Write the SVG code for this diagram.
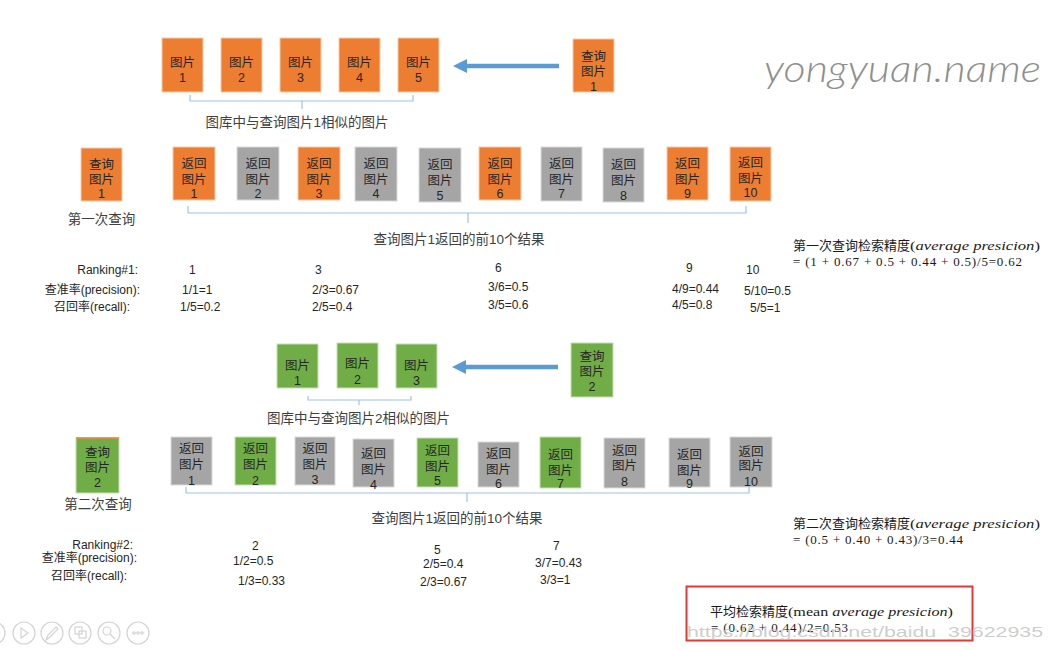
<svg xmlns="http://www.w3.org/2000/svg" width="1057" height="650" viewBox="0 0 1057 650">
<style>
text{font-family:"Liberation Sans","Noto Sans CJK SC",sans-serif;fill:#262626}
.o{fill:#ED7D31;stroke:#F8CBAD;stroke-width:1}
.g{fill:#A5A5A5;stroke:#DADADA;stroke-width:1}
.n{fill:#70AD47;stroke:#C5E0B4;stroke-width:1}
.bt{font-size:12.5px;text-anchor:middle}
.lab{font-size:13.5px;text-anchor:middle;fill:#404040}
.rk{font-size:12px}
.rr{font-size:12px;text-anchor:end}
.ap{font-size:13px;font-family:"Liberation Serif","Noto Sans CJK SC",serif;fill:#1a1a1a}
.it{font-style:italic}
.br{fill:none;stroke:#9DC3E6;stroke-width:1.2}
.arr{stroke:#5B9BD5;stroke-width:4.5;fill:none}
.ic{fill:none;stroke:#D4D4D4;stroke-width:1.2}
</style>
<defs>
<marker id="ah" viewBox="0 0 14 14" refX="0" refY="7" markerWidth="14" markerHeight="14" markerUnits="userSpaceOnUse" orient="auto"><path d="M0,0 L14,7 L0,14 z" fill="#5B9BD5"/></marker>
</defs>
<rect width="1057" height="650" fill="#fff"/>

<text x="764" y="82" font-size="38" font-style="italic" font-weight="300" style="font-family:Lato,'Open Sans',sans-serif;fill:#8f8f8f" textLength="277" lengthAdjust="spacingAndGlyphs">yongyuan.name</text>

<!-- Row 1: similar images for query 1 -->
<g id="img1-1"><rect class="o" x="162" y="38" width="41" height="54"/><text class="bt" x="182.5" y="66.5">图片</text><text class="bt" x="182.5" y="81.5">1</text></g>
<g id="img1-2"><rect class="o" x="221" y="38" width="41" height="54"/><text class="bt" x="241.5" y="66.5">图片</text><text class="bt" x="241.5" y="81.5">2</text></g>
<g id="img1-3"><rect class="o" x="280" y="38" width="41" height="54"/><text class="bt" x="300.5" y="66.5">图片</text><text class="bt" x="300.5" y="81.5">3</text></g>
<g id="img1-4"><rect class="o" x="339" y="38" width="41" height="54"/><text class="bt" x="359.5" y="66.5">图片</text><text class="bt" x="359.5" y="81.5">4</text></g>
<g id="img1-5"><rect class="o" x="398" y="38" width="41" height="54"/><text class="bt" x="418.5" y="66.5">图片</text><text class="bt" x="418.5" y="81.5">5</text></g>
<g id="query1-top"><rect class="o" x="573" y="39" width="41" height="53"/><text class="bt" x="593.5" y="61">查询</text><text class="bt" x="593.5" y="76">图片</text><text class="bt" x="593.5" y="91">1</text></g>
<text class="lab" x="297" y="127">图库中与查询图片1相似的图片</text>

<!-- Row 2: query 1 results -->
<g id="query1"><rect class="o" x="81" y="148" width="41" height="53"/><text class="bt" x="101.5" y="168.5">查询</text><text class="bt" x="101.5" y="183.5">图片</text><text class="bt" x="101.5" y="197.5">1</text></g>
<text class="lab" x="101.5" y="223.5">第一次查询</text>
<g id="r1-1"><rect class="o" x="173" y="147" width="42" height="53"/><text class="bt" x="194" y="167.5">返回</text><text class="bt" x="194" y="183.5">图片</text><text class="bt" x="194" y="197.5">1</text></g>
<g id="r1-2"><rect class="g" x="237" y="147" width="42" height="53"/><text class="bt" x="258" y="167.5">返回</text><text class="bt" x="258" y="183.5">图片</text><text class="bt" x="258" y="197.5">2</text></g>
<g id="r1-3"><rect class="o" x="298" y="147" width="42" height="53"/><text class="bt" x="319" y="167.5">返回</text><text class="bt" x="319" y="183.5">图片</text><text class="bt" x="319" y="197.5">3</text></g>
<g id="r1-4"><rect class="g" x="355" y="147" width="42" height="54"/><text class="bt" x="376" y="167.5">返回</text><text class="bt" x="376" y="183.5">图片</text><text class="bt" x="376" y="197.5">4</text></g>
<g id="r1-5"><rect class="g" x="419" y="148" width="42" height="54"/><text class="bt" x="440" y="169">返回</text><text class="bt" x="440" y="185">图片</text><text class="bt" x="440" y="199.5">5</text></g>
<g id="r1-6"><rect class="o" x="479" y="147" width="42" height="53"/><text class="bt" x="500" y="167.5">返回</text><text class="bt" x="500" y="183.5">图片</text><text class="bt" x="500" y="197.5">6</text></g>
<g id="r1-7"><rect class="g" x="541" y="147" width="41" height="54"/><text class="bt" x="561.5" y="167.5">返回</text><text class="bt" x="561.5" y="183.5">图片</text><text class="bt" x="561.5" y="198">7</text></g>
<g id="r1-8"><rect class="g" x="603" y="148" width="41" height="54"/><text class="bt" x="623.5" y="169">返回</text><text class="bt" x="623.5" y="185">图片</text><text class="bt" x="623.5" y="199.5">8</text></g>
<g id="r1-9"><rect class="o" x="667" y="147" width="41" height="53"/><text class="bt" x="687.5" y="167.5">返回</text><text class="bt" x="687.5" y="183.5">图片</text><text class="bt" x="687.5" y="197.5">9</text></g>
<g id="r1-10"><rect class="o" x="730" y="147" width="41" height="54"/><text class="bt" x="750.5" y="166.5">返回</text><text class="bt" x="750.5" y="182.5">图片</text><text class="bt" x="750.5" y="197">10</text></g>
<text class="lab" x="459" y="244">查询图片1返回的前10个结果</text>

<g id="ap1">
<text class="ap" x="793" y="250">第一次查询检索精度</text>
<text class="ap" x="910" y="250" textLength="130" lengthAdjust="spacingAndGlyphs">(<tspan class="it">average presicion</tspan>)</text>
<text class="ap" x="793" y="266" textLength="229" lengthAdjust="spacing">= (1 + 0.67 + 0.5 + 0.44 + 0.5)/5=0.62</text>
</g>

<g id="ranking1">
<text class="rr" x="138" y="274">Ranking#1:</text>
<text class="rr" x="140" y="294">查准率(precision):</text>
<text class="rr" x="130" y="311">召回率(recall):</text>
<text class="rk" x="189" y="274">1</text><text class="rk" x="182" y="294">1/1=1</text><text class="rk" x="180" y="311">1/5=0.2</text>
<text class="rk" x="315" y="274">3</text><text class="rk" x="312" y="294">2/3=0.67</text><text class="rk" x="312" y="311">2/5=0.4</text>
<text class="rk" x="495" y="272">6</text><text class="rk" x="488" y="291">3/6=0.5</text><text class="rk" x="488" y="309">3/5=0.6</text>
<text class="rk" x="686" y="272">9</text><text class="rk" x="672" y="293">4/9=0.44</text><text class="rk" x="672" y="309">4/5=0.8</text>
<text class="rk" x="746" y="274">10</text><text class="rk" x="744" y="295">5/10=0.5</text><text class="rk" x="750" y="312">5/5=1</text>
</g>

<!-- Row 3: similar images for query 2 -->
<g id="img2-1"><rect class="n" x="277" y="344" width="41" height="44"/><text class="bt" x="297.5" y="369.5">图片</text><text class="bt" x="297.5" y="384.5">1</text></g>
<g id="img2-2"><rect class="n" x="337" y="343" width="41" height="45"/><text class="bt" x="357.5" y="367.5">图片</text><text class="bt" x="357.5" y="383.5">2</text></g>
<g id="img2-3"><rect class="n" x="396" y="344" width="41" height="44"/><text class="bt" x="416.5" y="369.5">图片</text><text class="bt" x="416.5" y="384.5">3</text></g>
<g id="query2-top"><rect class="n" x="571" y="343" width="42" height="54"/><text class="bt" x="592" y="360.5">查询</text><text class="bt" x="592" y="375.5">图片</text><text class="bt" x="592" y="390.5">2</text></g>
<text class="lab" x="358.5" y="423">图库中与查询图片2相似的图片</text>

<!-- Row 4: query 2 results -->
<g id="query2"><rect class="n" x="76" y="438" width="43" height="55"/><line x1="76" y1="438" x2="119" y2="438" stroke="#ED7D31" stroke-width="1.5"/><text class="bt" x="97.5" y="456.5">查询</text><text class="bt" x="97.5" y="471.5">图片</text><text class="bt" x="97.5" y="486.5">2</text></g>
<text class="lab" x="98" y="508.5">第二次查询</text>
<g id="r2-1"><rect class="g" x="171" y="437" width="41" height="48"/><text class="bt" x="191.5" y="452.5">返回</text><text class="bt" x="191.5" y="468.5">图片</text><text class="bt" x="191.5" y="484.5">1</text></g>
<g id="r2-2"><rect class="n" x="235" y="437" width="41" height="48"/><text class="bt" x="255.5" y="452.5">返回</text><text class="bt" x="255.5" y="468.5">图片</text><text class="bt" x="255.5" y="484.5">2</text></g>
<g id="r2-3"><rect class="g" x="295" y="437" width="40" height="48"/><text class="bt" x="315" y="452.5">返回</text><text class="bt" x="315" y="468.5">图片</text><text class="bt" x="315" y="484">3</text></g>
<g id="r2-4"><rect class="g" x="353" y="439" width="41" height="48"/><text class="bt" x="373.5" y="457.5">返回</text><text class="bt" x="373.5" y="473.5">图片</text><text class="bt" x="373.5" y="488.5">4</text></g>
<g id="r2-5"><rect class="n" x="417" y="438" width="41" height="49"/><text class="bt" x="437.5" y="454.5">返回</text><text class="bt" x="437.5" y="470.5">图片</text><text class="bt" x="437.5" y="484.5">5</text></g>
<g id="r2-6"><rect class="g" x="478" y="442" width="41" height="45"/><text class="bt" x="498.5" y="457.5">返回</text><text class="bt" x="498.5" y="473.5">图片</text><text class="bt" x="498.5" y="487.5">6</text></g>
<g id="r2-7"><rect class="n" x="540" y="437" width="41" height="51"/><text class="bt" x="560.5" y="458.5">返回</text><text class="bt" x="560.5" y="474.5">图片</text><text class="bt" x="560.5" y="487.5">7</text></g>
<g id="r2-8"><rect class="g" x="604" y="438" width="41" height="50"/><text class="bt" x="624.5" y="454.5">返回</text><text class="bt" x="624.5" y="470">图片</text><text class="bt" x="624.5" y="486">8</text></g>
<g id="r2-9"><rect class="g" x="669" y="438" width="41" height="49"/><text class="bt" x="689.5" y="458.5">返回</text><text class="bt" x="689.5" y="474.5">图片</text><text class="bt" x="689.5" y="487.5">9</text></g>
<g id="r2-10"><rect class="g" x="730" y="437" width="42" height="50"/><text class="bt" x="751" y="455.5">返回</text><text class="bt" x="751" y="470">图片</text><text class="bt" x="751" y="485.5">10</text></g>
<text class="lab" x="457" y="523">查询图片1返回的前10个结果</text>

<g id="ap2">
<text class="ap" x="793" y="528">第二次查询检索精度</text>
<text class="ap" x="910" y="528" textLength="130" lengthAdjust="spacingAndGlyphs">(<tspan class="it">average presicion</tspan>)</text>
<text class="ap" x="793" y="544" textLength="170" lengthAdjust="spacing">= (0.5 + 0.40 + 0.43)/3=0.44</text>
</g>

<g id="ranking2">
<text class="rr" x="133" y="549">Ranking#2:</text>
<text class="rr" x="137" y="562">查准率(precision):</text>
<text class="rr" x="127" y="580">召回率(recall):</text>
<text class="rk" x="252" y="550">2</text><text class="rk" x="233" y="565">1/2=0.5</text><text class="rk" x="238" y="585">1/3=0.33</text>
<text class="rk" x="434" y="554">5</text><text class="rk" x="423" y="568">2/5=0.4</text><text class="rk" x="420" y="586">2/3=0.67</text>
<text class="rk" x="553" y="550">7</text><text class="rk" x="535" y="567">3/7=0.43</text><text class="rk" x="540" y="584">3/3=1</text>
</g>

<g id="map">
<rect x="686.5" y="586.5" width="286" height="54" fill="#fff" stroke="#E53935" stroke-width="2"/>
<text class="ap" x="710" y="616">平均检索精度</text>
<text class="ap" x="788" y="616" textLength="165" lengthAdjust="spacingAndGlyphs">(mean <tspan class="it">average presicion</tspan>)</text>
<text class="ap" x="711" y="632" textLength="137" lengthAdjust="spacing">= (0.62 + 0.44)/2=0.53</text>
<text x="687" y="637" font-size="15" style="fill:#bdbdbd;fill-opacity:0.75" textLength="356" lengthAdjust="spacingAndGlyphs">https://blog.csdn.net/baidu_39622935</text>
</g>

<g id="connectors">
<path class="br" d="M190,95 V101 H413 V95 M302,101 V109"/>
<path class="br" d="M188,206 V213 H746 V206 M468,213 V223"/>
<path class="br" d="M308,396 V400 H411 V396 M359,400 V405"/>
<path class="br" d="M186,487 V493 H749 V487 M467,493 V502"/>
<line class="arr" x1="559" y1="66" x2="467" y2="66" marker-end="url(#ah)"/>
<line class="arr" x1="558" y1="367" x2="466" y2="367" marker-end="url(#ah)"/>
</g>

<g id="toolbar">
<circle class="ic" cx="-6" cy="633" r="11"/>
<circle class="ic" cx="24" cy="633" r="11"/><path class="ic" d="M21,628 L28,633 L21,638 Z"/>
<circle class="ic" cx="52" cy="633" r="11"/><path class="ic" d="M46,640 L48,635 L56,627 L58,629 L50,637 Z"/>
<circle class="ic" cx="80" cy="633" r="11"/><rect class="ic" x="75" y="627" width="7" height="7"/><rect class="ic" x="79" y="631" width="7" height="7"/>
<circle class="ic" cx="109" cy="633" r="11"/><circle class="ic" cx="107" cy="631" r="4"/><path class="ic" d="M110,634 L115,639"/>
<circle class="ic" cx="138" cy="633" r="11"/><circle class="ic" cx="134" cy="633" r="1.2"/><circle class="ic" cx="138" cy="633" r="1.2"/><circle class="ic" cx="142" cy="633" r="1.2"/>
</g>
</svg>
